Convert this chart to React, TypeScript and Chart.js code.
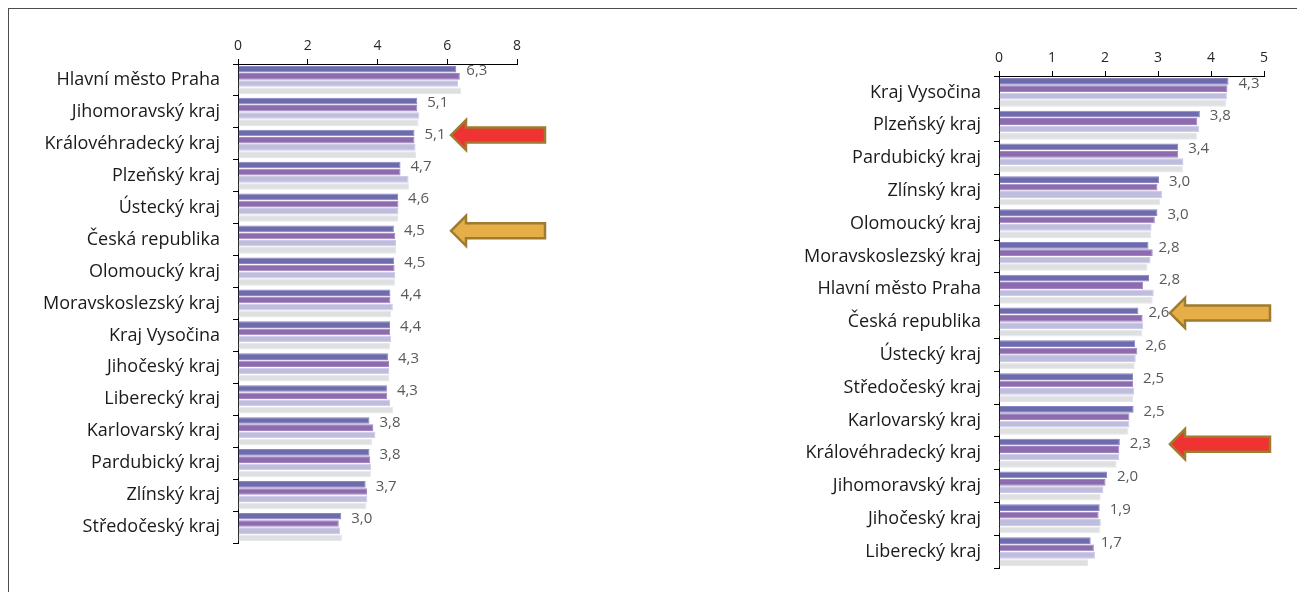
import React, { useEffect, useRef } from "react";
import { Chart, registerables } from "chart.js";

Chart.register(...registerables);

// ---------- data ----------
const leftCategories = [
  "Hlavní město Praha",
  "Jihomoravský kraj",
  "Královéhradecký kraj",
  "Plzeňský kraj",
  "Ústecký kraj",
  "Česká republika",
  "Olomoucký kraj",
  "Moravskoslezský kraj",
  "Kraj Vysočina",
  "Jihočeský kraj",
  "Liberecký kraj",
  "Karlovarský kraj",
  "Pardubický kraj",
  "Zlínský kraj",
  "Středočeský kraj",
];
const leftSeries1 = [6.26, 5.14, 5.06, 4.66, 4.59, 4.47, 4.48, 4.37, 4.36, 4.3, 4.27, 3.77, 3.77, 3.66, 2.96];
const leftSeries2 = [6.36, 5.14, 5.06, 4.66, 4.6, 4.51, 4.49, 4.37, 4.36, 4.33, 4.28, 3.88, 3.79, 3.7, 2.89];
const leftSeries3 = [6.31, 5.2, 5.09, 4.89, 4.6, 4.53, 4.51, 4.44, 4.39, 4.34, 4.36, 3.94, 3.82, 3.71, 2.93];
const leftSeries4 = [6.4, 5.18, 5.11, 4.91, 4.59, 4.54, 4.5, 4.39, 4.36, 4.34, 4.45, 3.85, 3.81, 3.68, 2.98];
const leftTicks = { min: 0, max: 8, step: 2 };

const rightCategories = [
  "Kraj Vysočina",
  "Plzeňský kraj",
  "Pardubický kraj",
  "Zlínský kraj",
  "Olomoucký kraj",
  "Moravskoslezský kraj",
  "Hlavní město Praha",
  "Česká republika",
  "Ústecký kraj",
  "Středočeský kraj",
  "Karlovarský kraj",
  "Královéhradecký kraj",
  "Jihomoravský kraj",
  "Jihočeský kraj",
  "Liberecký kraj",
];
const rightSeries1 = [4.33, 3.79, 3.38, 3.02, 2.99, 2.82, 2.83, 2.63, 2.57, 2.53, 2.54, 2.28, 2.04, 1.9, 1.73];
const rightSeries2 = [4.31, 3.74, 3.38, 2.99, 2.94, 2.9, 2.72, 2.71, 2.61, 2.53, 2.46, 2.27, 2.01, 1.88, 1.79];
const rightSeries3 = [4.3, 3.78, 3.48, 3.08, 2.88, 2.86, 2.92, 2.72, 2.58, 2.55, 2.46, 2.27, 1.97, 1.92, 1.81];
const rightSeries4 = [4.29, 3.74, 3.47, 3.04, 2.87, 2.8, 2.9, 2.7, 2.56, 2.53, 2.44, 2.22, 1.92, 1.91, 1.68];
const rightTicks = { min: 0, max: 5, step: 1 };

const leftArrows = [
  { category: "Královéhradecký kraj", kind: "red" },
  { category: "Česká republika", kind: "orange" },
];
const rightArrows = [
  { category: "Česká republika", kind: "orange" },
  { category: "Královéhradecký kraj", kind: "red" },
];

// ---------- styles ----------
const FONT = "'Open Sans', 'Noto Sans', sans-serif";
const barColors = ["#6E6AAE", "#8D6BAF", "#BFBDDE", "#DEDFE1"];
const barBorders = ["#8986C0", "#A185C0", "#CDCBE6", "#E6E7E8"];
const arrowFill: Record<string, string> = { red: "#EF3232", orange: "#E5AE47" };
const arrowStroke = "#9E7B2E";

type Cfg = {
  categories: string[];
  series: number[][];
  ticks: { min: number; max: number; step: number };
  arrows: { category: string; kind: string }[];
  width: number;
  height: number;
  axisWidth: number;
  axisHeight: number;
  padRight: number;
  padBottom: number;
  arrowTip: number;
  arrowEnd: number;
};

function fmt(v: number) {
  return v.toFixed(1).replace(".", ",");
}

function drawArrow(ctx: CanvasRenderingContext2D, tip: number, end: number, y: number, kind: string) {
  const headLen = 15;
  const headHalf = 15;
  const shaftHalf = 7.5;
  ctx.save();
  ctx.beginPath();
  ctx.moveTo(tip, y);
  ctx.lineTo(tip + headLen, y - headHalf);
  ctx.lineTo(tip + headLen, y - shaftHalf);
  ctx.lineTo(end, y - shaftHalf);
  ctx.lineTo(end, y + shaftHalf);
  ctx.lineTo(tip + headLen, y + shaftHalf);
  ctx.lineTo(tip + headLen, y + headHalf);
  ctx.closePath();
  ctx.fillStyle = arrowFill[kind];
  ctx.fill();
  ctx.lineWidth = 2.5;
  ctx.lineJoin = "miter";
  ctx.strokeStyle = arrowStroke;
  ctx.stroke();
  ctx.restore();
}

function BarPanel({ cfg, left }: { cfg: Cfg; left: number }) {
  const ref = useRef<HTMLCanvasElement | null>(null);
  useEffect(() => {
    if (!ref.current) return;
    const labelPlugin = {
      id: "valueLabels",
      afterDatasetsDraw(chart: any) {
        const ctx = chart.ctx as CanvasRenderingContext2D;
        const meta = chart.getDatasetMeta(0);
        ctx.save();
        ctx.font = `15px ${FONT}`;
        ctx.fillStyle = "#595959";
        ctx.textAlign = "left";
        ctx.textBaseline = "middle";
        meta.data.forEach((el: any, i: number) => {
          ctx.fillText(fmt(cfg.series[0][i]), el.x + 10, el.y + 2);
        });
        ctx.restore();
        cfg.arrows.forEach((a) => {
          const idx = cfg.categories.indexOf(a.category);
          const el = meta.data[idx];
          if (el) drawArrow(ctx, cfg.arrowTip, cfg.arrowEnd, el.y + 2, a.kind);
        });
      },
    };
    const chart = new Chart(ref.current, {
      type: "bar",
      data: {
        labels: cfg.categories,
        datasets: cfg.series.map((s, k) => ({
          label: `Series ${k + 1}`,
          data: s,
          backgroundColor: barColors[k],
          borderColor: barBorders[k],
          borderWidth: 1,
          barPercentage: 0.92,
          categoryPercentage: 0.9,
        })),
      },
      options: {
        indexAxis: "y",
        animation: false,
        responsive: false,
        events: [],
        layout: { padding: { left: 0, top: 0, right: cfg.padRight, bottom: cfg.padBottom } },
        plugins: { legend: { display: false }, tooltip: { enabled: false } },
        scales: {
          x: {
            position: "top",
            min: cfg.ticks.min,
            max: cfg.ticks.max,
            ticks: { stepSize: cfg.ticks.step, color: "#262626", font: { family: FONT, size: 14 }, padding: 5 },
            grid: { drawOnChartArea: false, drawTicks: true, tickLength: 5, color: "#000" },
            border: { color: "#000", width: 1 },
            afterFit: (s: any) => {
              s.height = cfg.axisHeight;
            },
          },
          y: {
            ticks: { color: "#1a1a1a", font: { family: FONT, size: 18 }, padding: 13 },
            grid: { drawOnChartArea: false, drawTicks: true, tickLength: 5, color: "#000", offset: true },
            border: { color: "#000", width: 1 },
            afterFit: (s: any) => {
              s.width = cfg.axisWidth;
            },
          },
        },
      } as any,
      plugins: [labelPlugin],
    });
    return () => chart.destroy();
  }, []);
  return (
    <canvas
      ref={ref}
      width={cfg.width}
      height={cfg.height}
      style={{ position: "absolute", left, top: 0, width: cfg.width, height: cfg.height }}
    />
  );
}

const leftCfg: Cfg = {
  categories: leftCategories,
  series: [leftSeries1, leftSeries2, leftSeries3, leftSeries4],
  ticks: leftTicks,
  arrows: leftArrows,
  width: 640,
  height: 592,
  axisWidth: 238,
  axisHeight: 64,
  padRight: 640 - 517,
  padBottom: 592 - 543,
  arrowTip: 451,
  arrowEnd: 545,
};

const rightCfg: Cfg = {
  categories: rightCategories,
  series: [rightSeries1, rightSeries2, rightSeries3, rightSeries4],
  ticks: rightTicks,
  arrows: rightArrows,
  width: 657,
  height: 592,
  axisWidth: 999 - 640,
  axisHeight: 76,
  padRight: 1297 - 1264,
  padBottom: 592 - 568,
  arrowTip: 1170 - 640,
  arrowEnd: 1270 - 640,
};

export default function App() {
  useEffect(() => {
    document.body.style.overflow = "hidden";
    document.documentElement.style.overflow = "hidden";
  }, []);
  return (
    <div style={{ position: "fixed", left: 0, top: 0, width: 1297, height: 592, overflow: "hidden", background: "#fff" }}>
      <div
        style={{
          position: "absolute",
          left: 8,
          top: 8,
          width: 1400,
          height: 700,
          border: "1px solid #4d4d4d",
        }}
      />
      <BarPanel cfg={leftCfg} left={0} />
      <BarPanel cfg={rightCfg} left={640} />
    </div>
  );
}
